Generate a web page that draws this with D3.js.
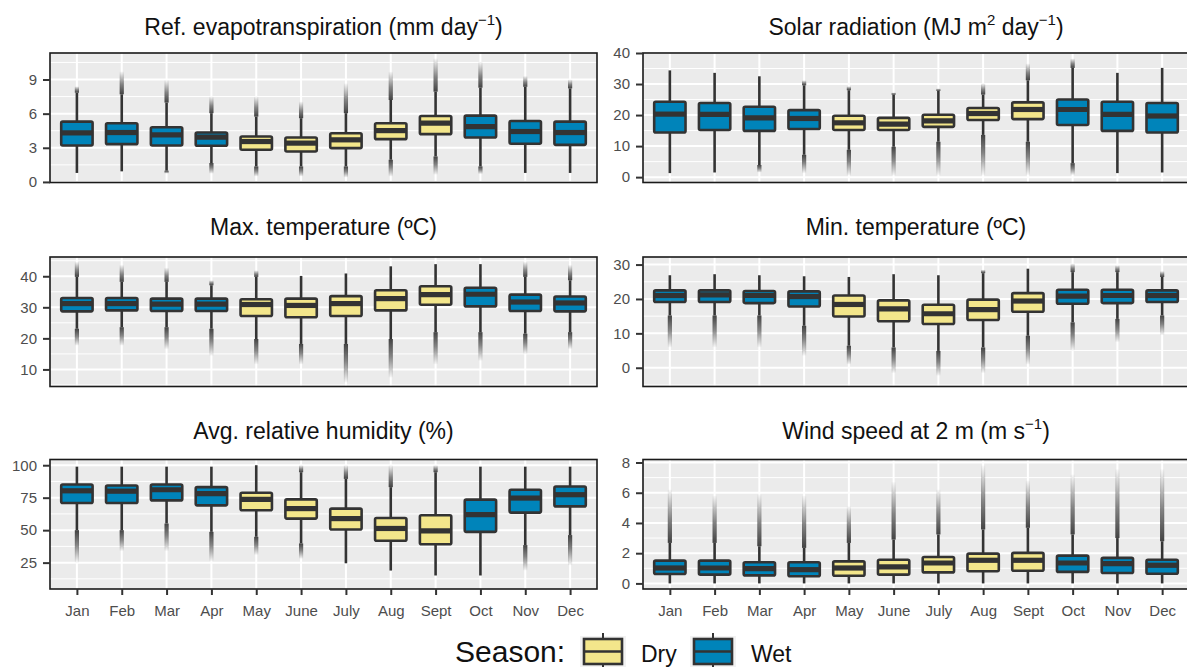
<!DOCTYPE html>
<html>
<head>
<meta charset="utf-8">
<script src="https://cdn.jsdelivr.net/npm/d3@7"></script>
<style>
  body { margin: 0; background: #fff; }
  svg { display: block; font-family: "Liberation Sans", Arial, sans-serif; }
</style>
</head>
<body>
<svg id="chart" width="1187" height="667"></svg>
<script>
const months = ["Jan", "Feb", "Mar", "Apr", "May", "June", "July", "Aug", "Sept", "Oct", "Nov", "Dec"]
const season = ["Wet", "Wet", "Wet", "Wet", "Dry", "Dry", "Dry", "Dry", "Dry", "Wet", "Wet", "Wet"]
const seasons = ["Dry", "Wet"]

// [lower whisker, Q1, median, Q3, upper whisker]
// outliers: [lowest outlier, highest outlier], null where none
const et0Box = [[0.79, 3.2, 4.31, 5.3, 7.84], [0.93, 3.32, 4.34, 5.16, 7.7], [0.99, 3.2, 4.14, 4.81, 6.97], [1.66, 3.18, 3.94, 4.34, 6.04],
  [1.36, 2.83, 3.55, 3.99, 5.74], [1.36, 2.68, 3.41, 3.9, 5.6], [1.36, 2.97, 3.7, 4.28, 6.04], [1.95, 3.76, 4.51, 5.16, 7.2],
  [2.24, 4.2, 5.16, 5.8, 7.93], [1.36, 3.9, 4.86, 5.83, 8.28], [0.79, 3.35, 4.43, 5.36, 8.36], [0.79, 3.26, 4.34, 5.3, 8.22]]
const et0Out = [[null, 8.4], [null, 9.7], [0.73, 8.95], [0.73, 7.5], [0.49, 7.5], [0.49, 7.05], [0.4, 8.66], [0.49, 9.68],
  [0.64, 10.85], [0.7, 10.55], [null, 9.3], [null, 9.0]]

const solarBox = [[1.3, 14.4, 20.3, 24.3, 34.4], [1.5, 15.2, 20.2, 23.9, 33.6], [3.9, 14.9, 19.1, 22.7, 32.5], [7.2, 15.5, 18.9, 21.6, 29.6],
  [8.8, 15.2, 17.5, 19.8, 28.0], [9.8, 15.2, 17.1, 19.1, 26.6], [11.4, 16.2, 18.1, 20.1, 27.8], [13.6, 18.4, 20.5, 22.3, 26.6],
  [11.4, 18.7, 21.8, 24.1, 31.2], [4.5, 16.8, 21.8, 25.0, 35.2], [1.3, 14.9, 20.2, 24.3, 33.6], [1.5, 14.4, 19.7, 23.9, 35.2]]
const solarOut = [[null, null], [null, null], [1.5, null], [1.3, 31.2], [0.5, 29.3], [0.5, 27.3], [0.6, 28.6], [0.6, 30.2],
  [0.7, 36.6], [0.7, 38.2], [null, null], [null, null]]

const tmaxBox = [[23.1, 28.7, 31.2, 33.0, 39.8], [23.6, 29.0, 31.2, 33.0, 38.2], [23.6, 28.8, 31.0, 32.8, 38.2], [23.1, 28.8, 31.0, 32.8, 37.1],
  [19.8, 27.2, 30.9, 32.6, 39.8], [18.2, 26.8, 30.6, 32.8, 40.1], [18.2, 27.2, 31.2, 33.6, 40.9], [19.8, 29.0, 32.8, 35.5, 43.2],
  [22.0, 30.8, 34.1, 36.8, 43.9], [22.0, 30.3, 34.2, 36.3, 43.9], [21.5, 28.8, 31.7, 34.1, 39.8], [22.0, 28.7, 31.4, 33.5, 38.7]]
const tmaxOut = [[17.7, 44.6], [17.7, 43.6], [16.6, 42.7], [14.4, 38.7], [11.7, 41.9], [11.7, null], [5.8, null], [7.4, null],
  [11.7, null], [12.8, null], [15.0, 44.6], [16.6, 43.6]]

const tminBox = [[15.2, 19.1, 21.0, 22.5, 26.9], [15.2, 19.1, 21.2, 22.5, 27.2], [15.2, 18.8, 21.0, 22.3, 26.9], [12.2, 17.8, 20.7, 22.2, 26.6],
  [6.4, 14.9, 18.4, 21.0, 26.4], [5.9, 13.5, 17.1, 19.6, 27.2], [4.9, 12.7, 15.7, 18.3, 26.9], [5.9, 13.9, 16.9, 19.8, 27.5],
  [9.3, 16.3, 19.4, 21.7, 28.8], [13.2, 18.6, 20.8, 22.7, 27.8], [14.2, 18.8, 21.0, 22.7, 27.8], [15.2, 19.1, 21.0, 22.5, 26.4]]
const tminOut = [[6.0, null], [6.0, null], [6.0, null], [3.5, null], [1.0, null], [-1.5, null], [-2.3, null], [-1.5, 28.5],
  [1.0, null], [5.0, 30.3], [7.5, 29.8], [9.5, 28.1]]

const rhBox = [[50.0, 70.9, 80.3, 85.2, 98.9], [50.0, 70.9, 80.0, 84.4, 98.9], [55.1, 72.9, 81.1, 85.2, 98.9], [48.7, 69.1, 78.1, 83.1, 98.9],
  [44.9, 65.3, 73.7, 78.8, 100], [39.8, 58.9, 66.6, 73.7, 94.6], [24.5, 50.5, 58.9, 66.6, 89.5], [18.9, 41.8, 51.3, 59.4, 83.1],
  [15.1, 39.1, 49.5, 61.5, 94.6], [15.1, 48.7, 62.0, 73.5, 98.9], [38.5, 63.5, 74.7, 81.1, 98.9], [46.2, 68.3, 77.3, 83.6, 98.9]]
const rhOut = [[25, null], [34, null], [34, null], [26, null], [31, null], [28, 100], [null, 100], [null, 100],
  [null, 100], [null, null], [19, null], [23, null]]

const windBox = [[0, 0.62, 1.02, 1.51, 2.68], [0, 0.58, 1.02, 1.51, 2.68], [0, 0.53, 0.98, 1.4, 2.46], [0, 0.47, 0.91, 1.4, 2.35],
  [0, 0.51, 1.02, 1.46, 2.68], [0, 0.58, 1.09, 1.57, 2.9], [0, 0.73, 1.35, 1.75, 3.24], [0, 0.8, 1.53, 1.97, 3.57],
  [0, 0.84, 1.53, 2.02, 3.68], [0, 0.76, 1.35, 1.84, 3.24], [0, 0.69, 1.31, 1.69, 3.0], [0, 0.64, 1.2, 1.57, 2.79]]
const windOut = [[null, 6.2], [null, 5.8], [null, 5.9], [null, 5.8], [null, 5.1], [null, 6.7], [null, 6.2], [null, 7.8],
  [null, 6.8], [null, 7.2], [null, 7.55], [null, 7.55]]

const colors = { Dry: "#F3E68B", Wet: "#0084BA" }

const panels = [
  { title: [["Ref. evapotranspiration (mm day"], ["−1", 1], [")"]], box: et0Box, out: et0Out, domain: [-0.05, 11.33], ticks: [0, 3, 6, 9], minor: [1.5, 4.5, 7.5, 10.5] },
  { title: [["Solar radiation (MJ m"], ["2", 1], [" day"], ["−1", 1], [")"]], box: solarBox, out: solarOut, domain: [-1.73, 40], ticks: [0, 10, 20, 30, 40], minor: [5, 15, 25, 35] },
  { title: [["Max. temperature (ºC)"]], box: tmaxBox, out: tmaxOut, domain: [4.5, 46.2], ticks: [10, 20, 30, 40], minor: [5, 15, 25, 35, 45] },
  { title: [["Min. temperature (ºC)"]], box: tminBox, out: tminOut, domain: [-5.45, 32.2], ticks: [0, 10, 20, 30], minor: [-5, 5, 15, 25] },
  { title: [["Avg. relative humidity (%)"]], box: rhBox, out: rhOut, domain: [4.7, 104.4], ticks: [25, 50, 75, 100], minor: [12.5, 37.5, 62.5, 87.5] },
  { title: [["Wind speed at 2 m (m s"], ["−1", 1], [")"]], box: windBox, out: windOut, domain: [-0.37, 8.2], ticks: [0, 2, 4, 6, 8], minor: [1, 3, 5, 7] }
]

const colX = [[50, 597], [643, 1189]]
const rowY = [53, 257, 459.5]
const panelH = 129.5
const titleY = [35, 234.5, 439]

const svg = d3.select("#chart")

// outliers are thousands of faint points: drawn as a smear fading out from the whisker end
const defs = svg.append("defs")
const grads = [["fadeUp", 1, 0], ["fadeDown", 0, 1]]
grads.forEach(function (g) {
  const lg = defs.append("linearGradient").attr("id", g[0])
    .attr("x1", 0).attr("x2", 0).attr("y1", g[1]).attr("y2", g[2])
  lg.append("stop").attr("offset", "0%").attr("stop-color", "#333").attr("stop-opacity", 0.92)
  lg.append("stop").attr("offset", "45%").attr("stop-color", "#333").attr("stop-opacity", 0.6)
  lg.append("stop").attr("offset", "100%").attr("stop-color", "#333").attr("stop-opacity", 0.03)
})

panels.forEach(function (p, i) {
  const col = i % 2, row = Math.floor(i / 2)
  const x0 = colX[col][0], x1 = colX[col][1]
  const top = rowY[row], bottom = top + panelH

  const x = d3.scalePoint().domain(months).range([x0, x1]).padding(0.6)
  const y = d3.scaleLinear().domain(p.domain).range([bottom, top])
  const step = x.step()
  const bw = step * 0.7

  const g = svg.append("g")

  g.append("rect").attr("x", x0).attr("y", top).attr("width", x1 - x0).attr("height", panelH).attr("fill", "#EBEBEB")

  g.selectAll(".minor").data(p.minor.filter(v => y(v) > top && y(v) < bottom)).join("line")
    .attr("x1", x0).attr("x2", x1).attr("y1", d => y(d)).attr("y2", d => y(d))
    .attr("stroke", "#fff").attr("stroke-width", 1)
  g.selectAll(".hmaj").data(p.ticks).join("line")
    .attr("x1", x0).attr("x2", x1).attr("y1", d => y(d)).attr("y2", d => y(d))
    .attr("stroke", "#fff").attr("stroke-width", 2)
  g.selectAll(".vmaj").data(months).join("line")
    .attr("x1", d => x(d)).attr("x2", d => x(d)).attr("y1", top).attr("y2", bottom)
    .attr("stroke", "#fff").attr("stroke-width", 2)

  const items = months.map((m, k) => ({ m: m, s: season[k], b: p.box[k], o: p.out[k] }))

  g.selectAll(".olow").data(items.filter(d => d.o[0] != null)).join("rect")
    .attr("x", d => x(d.m) - 2.1).attr("width", 4.2)
    .attr("y", d => y(d.b[0])).attr("height", d => y(d.o[0]) - y(d.b[0]))
    .attr("fill", "url(#fadeDown)")
  g.selectAll(".ohigh").data(items.filter(d => d.o[1] != null)).join("rect")
    .attr("x", d => x(d.m) - 2.1).attr("width", 4.2)
    .attr("y", d => y(d.o[1])).attr("height", d => y(d.b[4]) - y(d.o[1]))
    .attr("fill", "url(#fadeUp)")

  g.selectAll(".whisk").data(items).join("line")
    .attr("x1", d => x(d.m)).attr("x2", d => x(d.m))
    .attr("y1", d => y(d.b[0])).attr("y2", d => y(d.b[4]))
    .attr("stroke", "#333").attr("stroke-width", 2.6)

  g.selectAll(".box").data(items).join("rect")
    .attr("x", d => x(d.m) - bw / 2).attr("width", bw)
    .attr("y", d => y(d.b[3])).attr("height", d => y(d.b[1]) - y(d.b[3]))
    .attr("rx", 1.5)
    .attr("fill", d => colors[d.s]).attr("stroke", "#333").attr("stroke-width", 2.6)

  g.selectAll(".med").data(items).join("line")
    .attr("x1", d => x(d.m) - bw / 2).attr("x2", d => x(d.m) + bw / 2)
    .attr("y1", d => y(d.b[2])).attr("y2", d => y(d.b[2]))
    .attr("stroke", "#333").attr("stroke-width", 5.2)

  g.append("rect").attr("x", x0).attr("y", top).attr("width", x1 - x0).attr("height", panelH)
    .attr("fill", "none").attr("stroke", "#1a1a1a").attr("stroke-width", 1.6)

  const ya = g.append("g").attr("transform", `translate(${x0},0)`)
    .call(d3.axisLeft(y).tickValues(p.ticks).tickSize(7).tickPadding(6))
  ya.select(".domain").remove()
  ya.selectAll(".tick line").attr("stroke", "#333").attr("stroke-width", 2)
  ya.selectAll(".tick text").attr("fill", "#4D4D4D").style("font-size", "15px")
    .style("font-family", "'Liberation Sans', Arial, sans-serif")

  if (row === 2) {
    const xa = g.append("g").attr("transform", `translate(0,${bottom})`)
      .call(d3.axisBottom(x).tickSize(6).tickPadding(10))
    xa.select(".domain").remove()
    xa.selectAll(".tick line").attr("stroke", "#333").attr("stroke-width", 2)
    xa.selectAll(".tick text").attr("fill", "#4D4D4D").style("font-size", "15px")
      .style("font-family", "'Liberation Sans', Arial, sans-serif")
  }

  const t = svg.append("text").attr("x", (x0 + x1) / 2).attr("y", titleY[row])
    .attr("text-anchor", "middle").attr("fill", "#111").style("font-size", "23px")
  let raised = false
  p.title.forEach(function (seg) {
    const sup = !!seg[1]
    const ts = t.append("tspan").text(seg[0])
    if (sup) ts.style("font-size", "15px")
    if (sup !== raised) ts.attr("dy", sup ? -10 : 10)
    raised = sup
  })
})

// legend
const leg = svg.append("g")
leg.append("text").attr("x", 455).attr("y", 662).attr("fill", "#111").style("font-size", "30px").text("Season:")
const keyX = d3.scaleOrdinal().domain(seasons).range([580, 690])
seasons.forEach(function (s) {
  const kx = keyX(s)
  leg.append("rect").attr("x", kx).attr("y", 636).attr("width", 46).attr("height", 31).attr("fill", "#F2F2F2")
  leg.append("line").attr("x1", kx + 23).attr("x2", kx + 23).attr("y1", 633).attr("y2", 669)
    .attr("stroke", "#333").attr("stroke-width", 2)
  leg.append("rect").attr("x", kx + 4).attr("y", 639).attr("width", 38).attr("height", 25)
    .attr("fill", colors[s]).attr("stroke", "#333").attr("stroke-width", 2.6)
  leg.append("line").attr("x1", kx + 4).attr("x2", kx + 42).attr("y1", 651.5).attr("y2", 651.5)
    .attr("stroke", "#333").attr("stroke-width", 2.6)
  leg.append("text").attr("x", kx + 61).attr("y", 662).attr("fill", "#111").style("font-size", "23px").text(s)
})
</script>
</body>
</html>
